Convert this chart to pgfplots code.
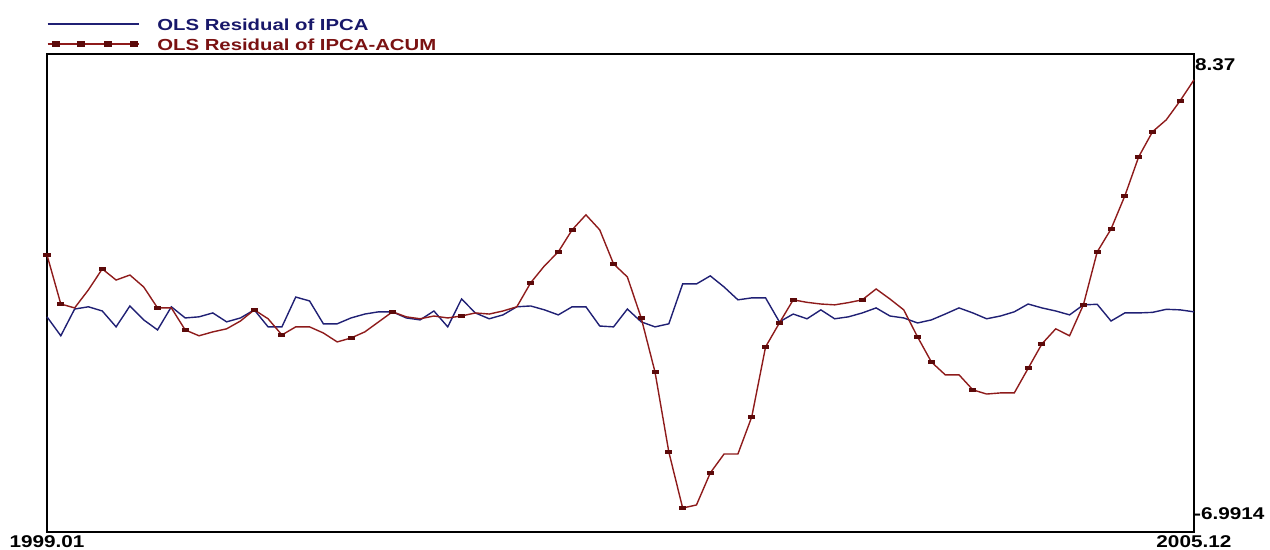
\documentclass[border=0pt]{standalone}
\usepackage{fontspec}
\setmainfont{Liberation Sans}
\usepackage{graphicx}
\usepackage{pgfplots}
\usepackage{pgfplotstable}
\pgfplotsset{compat=1.18}
\definecolor{navyline}{HTML}{202074}
\definecolor{maroonline}{HTML}{8E1B1B}
\definecolor{maroonmark}{HTML}{5C0A0A}
\definecolor{navytext}{HTML}{18186A}
\definecolor{maroontext}{HTML}{7A1212}
\pgfdeclareplotmark{rect}{\pgfpathrectangle{\pgfpoint{-3.5bp}{-2bp}}{\pgfpoint{7bp}{4bp}}\pgfusepathqfill}
\newcommand\wide[1]{\scalebox{1.22}[1]{#1}}
\newcommand\lwide[1]{\scalebox{1.27}[1]{#1}}
\pgfplotstableread{
i ipca acum
0 -0.13 2.09
1 -0.81 0.33
2 0.15 0.19
3 0.23 0.84
4 0.08 1.59
5 -0.49 1.19
6 0.26 1.37
7 -0.24 0.94
8 -0.60 0.19
9 0.23 0.19
10 -0.17 -0.60
11 -0.13 -0.81
12 0.01 -0.67
13 -0.31 -0.56
14 -0.17 -0.28
15 0.12 0.12
16 -0.49 -0.20
17 -0.49 -0.78
18 0.58 -0.49
19 0.44 -0.49
20 -0.38 -0.71
21 -0.38 -1.03
22 -0.17 -0.89
23 -0.03 -0.67
24 0.05 -0.31
25 0.05 0.05
26 -0.17 -0.13
27 -0.24 -0.20
28 0.08 -0.10
29 -0.49 -0.17
30 0.51 -0.10
31 0.01 0.01
32 -0.20 -0.03
33 -0.06 0.08
34 0.23 0.23
35 0.26 1.09
36 0.12 1.70
37 -0.06 2.20
38 0.23 2.99
39 0.23 3.53
40 -0.46 2.99
41 -0.49 1.77
42 0.15 1.30
43 -0.31 -0.17
44 -0.49 -2.11
45 -0.38 -4.98
46 1.05 -6.99
47 1.05 -6.88
48 1.34 -5.73
49 0.94 -5.05
50 0.48 -5.05
51 0.55 -3.72
52 0.55 -1.21
53 -0.31 -0.35
54 -0.03 0.48
55 -0.20 0.39
56 0.12 0.33
57 -0.20 0.30
58 -0.13 0.38
59 0.01 0.48
60 0.19 0.87
61 -0.10 0.51
62 -0.17 0.12
63 -0.35 -0.85
64 -0.24 -1.75
65 -0.03 -2.21
66 0.19 -2.21
67 0.01 -2.75
68 -0.20 -2.90
69 -0.10 -2.86
70 0.05 -2.86
71 0.33 -1.98
72 0.19 -1.10
73 0.08 -0.56
74 -0.06 -0.81
75 0.30 0.30
76 0.32 2.20
77 -0.28 3.02
78 0.01 4.21
79 0.01 5.61
80 0.03 6.51
81 0.14 6.94
82 0.12 7.62
83 0.05 8.37
}\resid
\begin{document}
\begin{tikzpicture}
\begin{axis}[
  scale only axis,
  width=1147bp, height=478bp,
  xmin=0, xmax=83,
  ymin=-7.85, ymax=9.30,
  xtick=\empty, ytick=\empty,
  axis line style={black, line width=1.6bp},
  clip=false,
  legend style={at={(rel axis cs:0,1)}, anchor=south west,
    draw=none, fill=none, inner sep=0pt, outer sep=0pt, row sep=0pt,
    font=\fontsize{16bp}{18bp}\selectfont\bfseries,
    nodes={inner sep=4bp, text height=12bp, text depth=0bp},
    /tikz/every odd column/.append style={column sep=14bp}},
  legend cell align=left,
]
\addplot[navyline, line width=1.4bp, mark=none,
  legend image code/.code={\draw[navyline,line width=1.4bp] (0bp,0bp) -- (91bp,0bp);}]
  table[x=i, y=ipca] {\resid};
\addlegendentry{\textcolor{navytext}{\lwide{OLS Residual of IPCA}}}
\addplot[maroonline, line width=1.4bp, mark=rect, mark options={fill=maroonmark, draw=none},
  mark indices={1,2,5,9,11,16,18,23,26,31,36,38,39,42,44,45,46,47,49,52,53,54,55,60,64,65,68,72,73,76,77,78,79,80,81,83},
  legend image code/.code={\draw[maroonline,line width=1.4bp] (0bp,0bp) -- (91bp,0bp);
    \fill[maroonmark] (4.5bp,-2bp) rectangle ++(7bp,4bp);
    \fill[maroonmark] (29.5bp,-2bp) rectangle ++(7bp,4bp);
    \fill[maroonmark] (56.5bp,-2bp) rectangle ++(7bp,4bp);
    \fill[maroonmark] (82.5bp,-2bp) rectangle ++(7bp,4bp);}]
  table[x=i, y=acum] {\resid};
\addlegendentry{\textcolor{maroontext}{\lwide{OLS Residual of IPCA-ACUM}}}
\coordinate (bl) at (rel axis cs:0,0);
\node[anchor=north, inner sep=0pt, yshift=-3bp, font=\fontsize{17bp}{19bp}\selectfont\bfseries] at (rel axis cs:0,0) {\wide{1999.01}};
\node[anchor=north, inner sep=0pt, yshift=-3bp, font=\fontsize{17bp}{19bp}\selectfont\bfseries] at (rel axis cs:1,0) {\wide{2005.12}};
\node[anchor=west, inner sep=0pt, xshift=1bp, font=\fontsize{17bp}{19bp}\selectfont\bfseries] at (axis cs:83,8.93) {\wide{8.37}};
\node[anchor=west, inner sep=0pt, font=\fontsize{17bp}{19bp}\selectfont\bfseries] at (axis cs:83,-7.18) {\wide{-6.9914}};
\end{axis}
\pgfresetboundingbox
\path[use as bounding box] (bl) ++(-47bp,-18bp) rectangle ++(1270bp,550bp);
\end{tikzpicture}
\end{document}
